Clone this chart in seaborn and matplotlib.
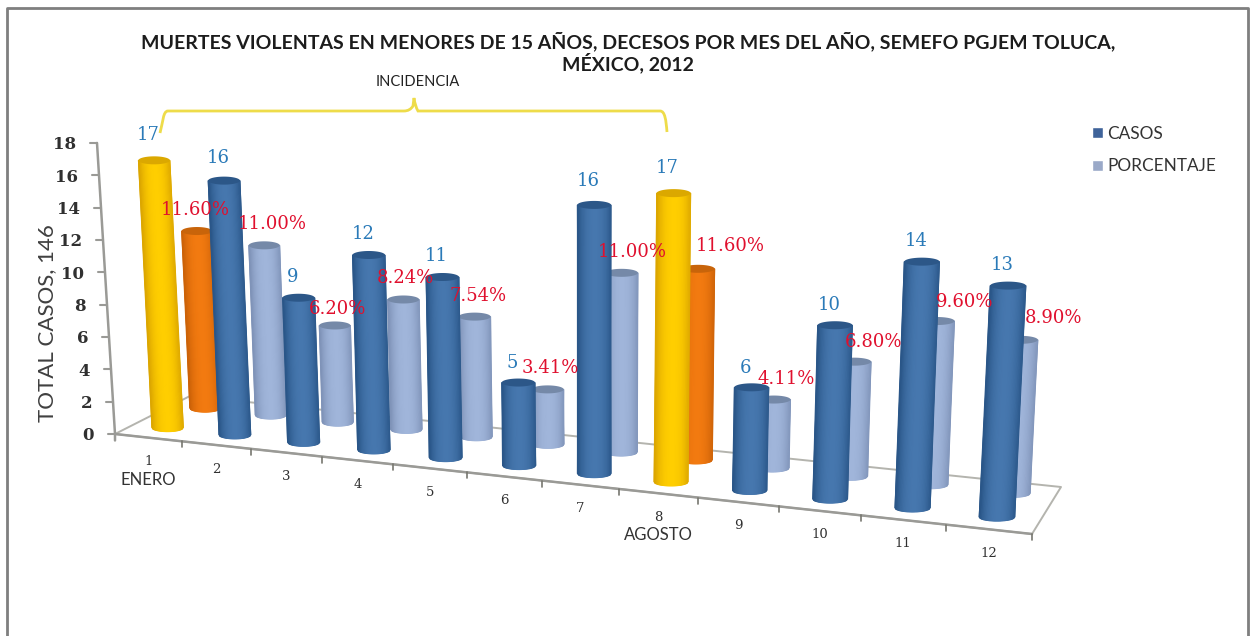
import numpy as np
import pandas as pd
import seaborn as sns
import matplotlib
matplotlib.use("Agg")
import matplotlib.pyplot as plt
from matplotlib.colors import LinearSegmentedColormap
from matplotlib.patches import Patch, PathPatch
from matplotlib.path import Path
from matplotlib.lines import Line2D
from matplotlib.transforms import Affine2D

# ---------- data ----------
meses = [1, 2, 3, 4, 5, 6, 7, 8, 9, 10, 11, 12]
casos = [17, 16, 9, 12, 11, 5, 16, 17, 6, 10, 14, 13]
porcentaje = [11.60, 11.00, 6.20, 8.24, 7.54, 3.41, 11.00, 11.60, 4.11, 6.80, 9.60, 8.90]
destacados = [1, 8]
nombres = {1: "ENERO", 8: "AGOSTO"}
titulo = "MUERTES VIOLENTAS EN MENORES DE 15 AÑOS, DECESOS POR MES DEL AÑO, SEMEFO PGJEM TOLUCA,\nMÉXICO, 2012"

# ---------- styles ----------
C_AZUL = ("#2a5688", "#4677ae")
C_CLARO = ("#7f93b8", "#a0b5da")
C_AMAR = ("#dca600", "#ffce00")
C_NARA = ("#cc6208", "#f27a10")
CAP = {C_AZUL: "#2c5788", C_CLARO: "#7589a8", C_AMAR: "#dba800", C_NARA: "#c8640a"}
GRIS = "#9a9a96"
# hand placement of the data labels relative to their bars
PCT_DX = [-2, 8, 3, 2, 3, 3, 11, 32, 12, 19, 27, 33]
PCT_DY = [-21, -21, -16, -21, -21, -21, -21, -23, -21, -20, -19, -22]
CAS_DY = [-25, -23, -21, -21, -21, -20, -24, -25, -19, -20, -21, -21]

W, H = 1254, 636
sns.set_theme(style="white")
plt.rcParams["font.family"] = ["Lato", "DejaVu Sans"]

fig = plt.figure(figsize=(W / 100, H / 100), dpi=100, facecolor="white")
ax = fig.add_axes([0, 0, 1, 1], facecolor="white")

# ---------- 3-D scene: camera calibration ----------
Y0_PX, PX_UNIDAD = 434.0, 16.17
def dy(py):
    return (Y0_PX - np.asarray(py, float)) / PX_UNIDAD

suelo_src = [(0, 0), (12, 0), (12, 1), (0, 1)]
suelo_dst = [(115, 434), (1032, 534), (1061, 487), (190, 396)]
A, b = [], []
for (u, v), (x, y) in zip(suelo_src, suelo_dst):
    A.append([u, v, 1, 0, 0, 0, -u * x, -v * x]); b.append(x)
    A.append([0, 0, 0, u, v, 1, -u * y, -v * y]); b.append(y)
h8 = np.linalg.solve(np.array(A, float), np.array(b, float))
HOM = np.append(h8, 1).reshape(3, 3)

# foreshortening along the month axis (front edge of the floor)
FA, FB, FC = 65.4, 115.0, -0.0107

def suelo(u, v):
    xf = (FA * u + FB) / (FC * u + 1)
    w = (xf - HOM[0, 2]) / (HOM[0, 0] - HOM[2, 0] * xf)
    p = HOM @ np.array([w, v, 1.0])
    return p[0] / p[2], p[1] / p[2]

VP = (595.0, 8900.0)
def escala(py):
    return 15.78 + 0.0233 * (py - 430)

def proyecta(u, v, z):
    bx, by = suelo(u, v)
    alto = z * escala(by)
    tx = bx + (bx - VP[0]) / (VP[1] - by) * alto
    return bx, by, tx, by - alto

# ---------- bars through seaborn ----------
df = pd.DataFrame({"mes": meses, "casos": casos, "porcentaje": porcentaje})
n_prev = 0
def barras(col, palette):
    global n_prev
    sns.barplot(data=df, x="mes", y=col, hue="mes", palette=palette, legend=False,
                width=0.8, ax=ax, linewidth=0, native_scale=True, dodge=False)
    nuevos = [p for p in ax.patches][n_prev:]
    n_prev = len(ax.patches)
    nuevos.sort(key=lambda p: p.get_x())
    return nuevos

pal_por = {m: (C_NARA[1] if m in destacados else C_CLARO[1]) for m in meses}
pal_cas = {m: (C_AMAR[1] if m in destacados else C_AZUL[1]) for m in meses}
rect_por = barras("porcentaje", pal_por)
rect_cas = barras("casos", pal_cas)

t = np.linspace(-1, 1, 31)
perfil = np.clip(1 - np.abs(t - 0.05) ** 2.4, 0, 1)
RY = 4.0

def cilindro(rect, mes, v, colores, z_base):
    valor = rect.get_height()
    u = mes - 0.5
    bx, by, tx, ty = proyecta(u, v, valor)
    r = escala(by) * 1.0
    # map the seaborn rectangle on the projected bar
    x0, w0 = rect.get_x(), rect.get_width()
    a = 2 * r / w0; c = (tx - bx) / valor
    e = (bx - r) - a * x0
    d = (dy(ty) - dy(by)) / valor
    T = Affine2D.from_values(a, 0, c, d, e, dy(by))
    rect.set_transform(T + ax.transData)
    rect.set_zorder(z_base)
    # cylinder shading
    X = np.vstack([bx + r * t, tx + r * t])
    Y = np.vstack([dy(by + RY * np.sqrt(1 - t ** 2)), dy(np.full_like(t, ty))])
    C = np.vstack([perfil, perfil])
    cmap = LinearSegmentedColormap.from_list("c", list(colores))
    ax.pcolormesh(X, Y, C, shading="gouraud", cmap=cmap, vmin=0, vmax=1, zorder=z_base + 0.001)
    th = np.linspace(0, 2 * np.pi, 60)
    ax.fill(tx + r * np.cos(th), dy(ty + RY * np.sin(th)), color=CAP[colores],
            lw=0, zorder=z_base + 0.002)
    return tx, ty

V_POR, V_CAS = 0.76, 0.25
txt = []
for i, m in enumerate(meses):
    col = C_NARA if m in destacados else C_CLARO
    tx, ty = cilindro(rect_por[i], m, V_POR, col, 2 + i * 0.01)
    txt.append((tx + PCT_DX[i], ty + PCT_DY[i], f"{porcentaje[i]:.2f}%", "#e0102e"))
for i, m in enumerate(meses):
    col = C_AMAR if m in destacados else C_AZUL
    tx, ty = cilindro(rect_cas[i], m, V_CAS, col, 3 + i * 0.01)
    txt.append((tx - 6, ty + CAS_DY[i], f"{casos[i]}", "#2a7ab8"))

for x, y, s, c in txt:
    ax.text(x, dy(y), s, color=c, ha="center", va="center",
            family="DejaVu Serif", fontsize=13, zorder=6)

# ---------- limits, axes and ticks ----------
ax.set_xlim(0, W)
ax.set_ylim(dy(H), dy(0))
for s in ax.spines.values():
    s.set_visible(False)
ax.grid(False)

# floor
fx = [p[0] for p in suelo_dst] + [suelo_dst[0][0]]
fy = [p[1] for p in suelo_dst] + [suelo_dst[0][1]]
ax.plot(fx, dy(fy), color="#b4b4ae", lw=1.4, zorder=1)
ax.plot(fx[:2], dy(fy[:2]), color=GRIS, lw=1.8, zorder=1)
for k in range(1, 13):
    x, y = suelo(k, 0)
    ax.plot([x, x], dy([y, y + 6]), color="#77776f", lw=1.2, zorder=1)

# y axis drawn along the depicted slant
AX_TOP, AX_BOT = 97.0, 115.0
eje_x = lambda val: AX_BOT + (AX_TOP - AX_BOT) * val / 18.0
ax.plot([eje_x(18), eje_x(0), eje_x(0)], [18, 0, -0.4], color=GRIS, lw=1.8, zorder=1)
ticks_y = list(range(0, 19, 2))
for val in ticks_y:
    ax.plot([eje_x(val) - 7, eje_x(val)], [val, val], color=GRIS, lw=1.5, zorder=1)

ax.set_yticks(ticks_y)
ax.tick_params(axis="y", length=0, pad=0)
ax.tick_params(axis="x", length=0, pad=0)
ax.set_yticklabels([str(v) for v in ticks_y])
for val, lab in zip(ticks_y, ax.get_yticklabels()):
    lab.set_family("DejaVu Serif"); lab.set_fontweight("bold"); lab.set_fontsize(12)
    lab.set_color("#303030")
    lab.set_transform(lab.get_transform() + Affine2D().translate(eje_x(val) - 21, 0))

xpos = [suelo(m - 0.5, 0)[0] for m in meses]
ax.set_xticks(xpos)
ax.set_xticklabels([str(m) for m in meses])
for m, lab in zip(meses, ax.get_xticklabels()):
    x, y = suelo(m - 0.5, 0)
    lab.set_family("DejaVu Serif"); lab.set_fontsize(9.5); lab.set_color("#303030")
    lab.set_va("center")
    lab.set_transform(lab.get_transform() + Affine2D().translate(0, H - (y + 24)))
    if m in nombres:
        ax.text(x, dy(y + 42), nombres[m], ha="center", va="center", fontsize=12, color="#333333")

ax.set_xlabel("")
ax.set_ylabel("TOTAL CASOS, 146", fontsize=16, color="#404040")
ax.yaxis.set_label_coords(57 / W, (H - 323) / H)

# title
ax.text(628, dy(52.5), titulo, ha="center", va="center", fontsize=14.0, fontweight="bold",
        color="#1c1c1c", linespacing=1.1)

# INCIDENCIA bracket
ax.text(418, dy(82), "INCIDENCIA", ha="center", va="center", fontsize=10.5, color="#222222")
P = [(160, 133), (163, 122), (163, 111), (168, 111), (404, 111), (410, 111), (413, 106),
     (414, 98), (415, 106), (418, 111), (424, 111), (660, 111), (665, 111), (666, 120), (667, 132)]
codes = [Path.MOVETO] + [Path.CURVE4] * 3 + [Path.LINETO] + [Path.CURVE3] * 2 \
        + [Path.LINETO] + [Path.CURVE3] * 2 + [Path.LINETO] + [Path.LINETO] + [Path.CURVE4] * 3
ax.add_patch(PathPatch(Path([(x, dy(y)) for x, y in P], codes), fc="none",
                       ec="#eedc4a", lw=2.0, zorder=1.5))

# legend
h = [Patch(fc="#3f639a", label="CASOS"), Patch(fc="#9aa9c8", label="PORCENTAJE")]
ax.legend(handles=h, loc="center left", bbox_to_anchor=(1092 / W, (H - 150) / H),
          frameon=False, fontsize=12.4, handlelength=0.62, handleheight=0.62, handletextpad=0.28,
          labelspacing=0.95, labelcolor="#333333", borderpad=0, borderaxespad=0)

# outer frame
for xs, ys in [((7, 7, 1248, 1248), (636, 8, 8, 636))]:
    fig.add_artist(Line2D(np.array(xs) / W, 1 - np.array(ys) / H, color="#7f7f7f", lw=2))

fig.savefig("out.png", dpi=100, facecolor="white")
